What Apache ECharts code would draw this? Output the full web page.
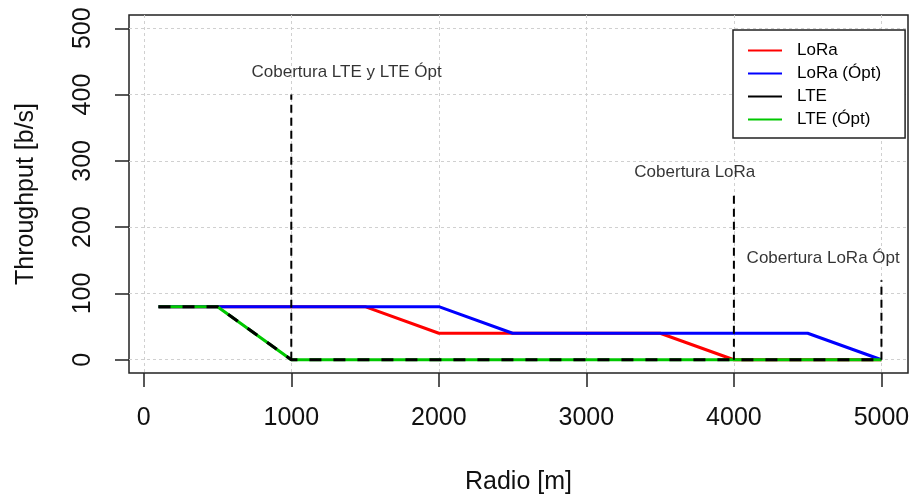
<!DOCTYPE html>
<html>
<head>
<meta charset="utf-8">
<script src="https://cdn.jsdelivr.net/npm/echarts@6/dist/echarts.min.js"></script>
<style>
  html, body { margin: 0; padding: 0; background: #fff; }
  #chart { width: 913px; height: 502px; }
</style>
</head>
<body>
<div id="chart"></div>
<script>
// datos
var xTicks = [0, 1000, 2000, 3000, 4000, 5000]
var yTicks = [0, 100, 200, 300, 400, 500]

var loraX = [100, 500, 1500, 2000, 3500, 4000, 5000]
var loraY = [80, 80, 80, 40, 40, 0, 0]
var loraOptX = [100, 500, 2000, 2500, 4500, 5000]
var loraOptY = [80, 80, 80, 40, 40, 0]
var lteX = [100, 500, 1000, 5000]
var lteY = [80, 80, 0, 0]
var lteOptX = [100, 500, 1000, 5000]
var lteOptY = [80, 80, 0, 0]

// lineas de cobertura
var coverX = [1000, 4000, 5000]
var coverTop = [400, 250, 120]

// textos
var noteText = ['Cobertura LTE y LTE Ópt', 'Cobertura LoRa', 'Cobertura LoRa Ópt']
var noteX = [1375, 3735, 4605]
var noteY = [433, 283, 153]

function pairs(xs, ys) {
  return xs.map(function (x, i) { return [x, ys[i]] })
}

var font = 'Liberation Sans, Arial, sans-serif'
var chart = echarts.init(document.getElementById('chart'))

var series = [
  { name: 'LoRa', type: 'line', data: pairs(loraX, loraY), color: '#ff0000', lineStyle: { width: 3 } },
  { name: 'LoRa (Ópt)', type: 'line', data: pairs(loraOptX, loraOptY), color: '#0000ff', lineStyle: { width: 3 } },
  { name: 'LTE (Ópt)', type: 'line', data: pairs(lteOptX, lteOptY), color: '#00c800', lineStyle: { width: 3 } },
  { name: 'LTE', type: 'line', data: pairs(lteX, lteY), color: '#000000', lineStyle: { width: 3, type: [12, 12] } },
]

coverX.forEach(function (x, i) {
  series.push({
    name: 'cov' + i,
    type: 'line',
    data: [[x, 0], [x, coverTop[i]]],
    color: '#000',
    lineStyle: { width: 2, type: [8, 5] },
    z: 3,
  })
})

series.push({
  name: 'notas',
  type: 'scatter',
  symbolSize: 0,
  data: noteX.map(function (x, i) { return { value: [x, noteY[i]], name: noteText[i] } }),
  label: {
    show: true,
    position: 'inside',
    formatter: '{b}',
    color: '#000',
    fontSize: 17,
    fontFamily: font,
  },
})

series.forEach(function (s) {
  if (s.type === 'line') {
    s.showSymbol = false
    s.symbol = 'none'
  }
})

option = {
  animation: false,
  backgroundColor: '#fff',
  grid: {
    left: 129,
    right: 5,
    top: 15,
    bottom: 129,
    show: true,
    borderColor: '#222',
    borderWidth: 1.5,
  },
  legend: {
    left: 733,
    top: 30,
    orient: 'vertical',
    icon: 'rect',
    itemWidth: 34,
    itemGap: 6,
    itemHeight: 2,
    padding: [12, 24, 10, 15],
    borderColor: '#222',
    borderWidth: 1.5,
    backgroundColor: '#fff',
    textStyle: { fontSize: 17, lineHeight: 17, fontFamily: font, color: '#000', padding: [0, 0, 0, 10] },
    data: ['LoRa', 'LoRa (Ópt)', 'LTE', 'LTE (Ópt)'],
  },
  xAxis: {
    type: 'value',
    min: -100,
    max: 5180,
    name: 'Radio [m]',
    nameLocation: 'middle',
    nameGap: 97,
    nameTextStyle: { fontSize: 25, fontFamily: font, color: '#111' },
    axisLine: { show: false, onZero: false },
    axisTick: { show: true, length: 14, customValues: xTicks, lineStyle: { color: '#222', width: 1.5 } },
    axisLabel: {
      customValues: xTicks, margin: 33, fontSize: 25, fontFamily: font, color: '#111',
      formatter: function (v) { return String(v) },
    },
    splitLine: { show: true, lineStyle: { color: '#d0d0d0', width: 1, type: [3, 3] } },
  },
  yAxis: {
    type: 'value',
    min: -20,
    max: 520,
    name: 'Throughput [b/s]',
    nameLocation: 'middle',
    nameGap: 90,
    nameTextStyle: { fontSize: 25, fontFamily: font, color: '#111' },
    axisLine: { show: false, onZero: false },
    axisTick: { show: true, length: 14, customValues: yTicks, lineStyle: { color: '#222', width: 1.5 } },
    axisLabel: {
      customValues: yTicks, rotate: 90, margin: 33, fontSize: 25, fontFamily: font, color: '#111',
      formatter: function (v) { return String(v) },
    },
    splitLine: { show: true, lineStyle: { color: '#d0d0d0', width: 1, type: [3, 3] } },
  },
  series: series,
}
chart.setOption(option)

window.addEventListener('resize', function () {
  chart.resize()
})
</script>
</body>
</html>
